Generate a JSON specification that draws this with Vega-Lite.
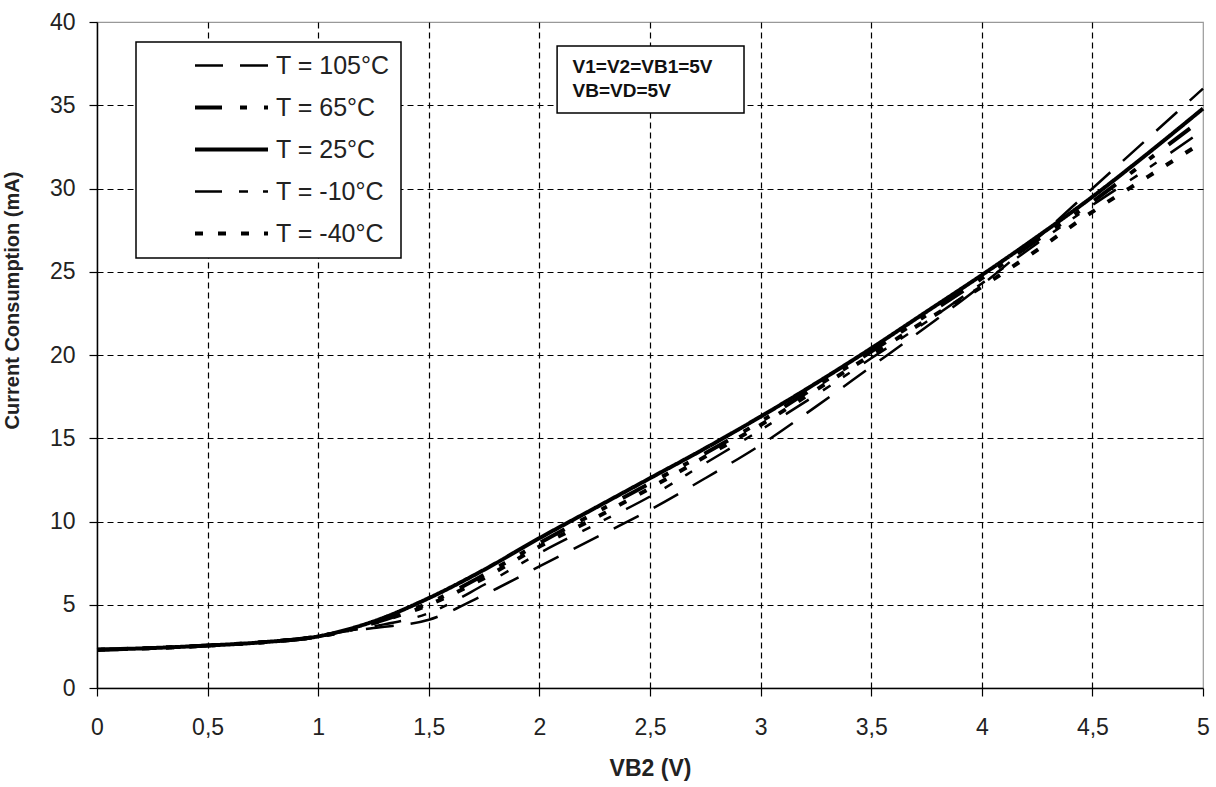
{
  "$schema": "https://vega.github.io/schema/vega-lite/v6.json",
  "autosize": {"type": "none"},
  "width": 1106,
  "height": 666,
  "padding": {"left": 97, "top": 22, "right": 13, "bottom": 99},
  "background": "white",
  "config": {
    "font": "Liberation Sans",
    "view": {"stroke": "#999999", "strokeWidth": 1.2},
    "axis": {
      "labelFont": "Liberation Sans",
      "labelFontSize": 23,
      "labelColor": "#222222",
      "titleFont": "Liberation Sans",
      "titleColor": "#222222",
      "domainColor": "#000000",
      "domainWidth": 1.5,
      "tickColor": "#000000",
      "tickWidth": 1.2,
      "tickSize": 8,
      "gridColor": "#000000",
      "gridDash": [6, 4],
      "gridWidth": 1.2
    },
    "legend": {
      "orient": "none",
      "legendX": 39,
      "legendY": 20,
      "title": null,
      "padding": 11,
      "symbolOffset": 72,
      "symbolSize": 400,
      "symbolType": "M-3.65,0H3.65",
      "symbolStrokeColor": "#000000",
      "labelFont": "Liberation Sans",
      "labelFontSize": 25,
      "labelColor": "#222222",
      "labelOffset": 32,
      "labelLimit": 300,
      "rowPadding": 16,
      "strokeColor": "#000000",
      "fillColor": "#ffffff",
      "strokeWidth": 1.5
    }
  },
  "layer": [
    {
      "data": {"values": [
        {"T": "T = 105°C", "v": 0, "i": 2.3}, {"T": "T = 105°C", "v": 0.25, "i": 2.4}, {"T": "T = 105°C", "v": 0.5, "i": 2.55}, {"T": "T = 105°C", "v": 0.75, "i": 2.75}, {"T": "T = 105°C", "v": 1, "i": 3.1}, {"T": "T = 105°C", "v": 1.1, "i": 3.35},
        {"T": "T = 105°C", "v": 1.25, "i": 3.6}, {"T": "T = 105°C", "v": 1.5, "i": 4.1}, {"T": "T = 105°C", "v": 1.75, "i": 5.6}, {"T": "T = 105°C", "v": 2, "i": 7.3}, {"T": "T = 105°C", "v": 2.25, "i": 9.0}, {"T": "T = 105°C", "v": 2.5, "i": 10.7},
        {"T": "T = 105°C", "v": 2.75, "i": 12.6}, {"T": "T = 105°C", "v": 3, "i": 14.6}, {"T": "T = 105°C", "v": 3.25, "i": 16.9}, {"T": "T = 105°C", "v": 3.5, "i": 19.3}, {"T": "T = 105°C", "v": 3.75, "i": 21.7}, {"T": "T = 105°C", "v": 4, "i": 24.2},
        {"T": "T = 105°C", "v": 4.25, "i": 27.0}, {"T": "T = 105°C", "v": 4.5, "i": 30.0}, {"T": "T = 105°C", "v": 4.75, "i": 33.0}, {"T": "T = 105°C", "v": 5, "i": 36.0},

        {"T": "T = 65°C", "v": 0, "i": 2.3}, {"T": "T = 65°C", "v": 0.25, "i": 2.4}, {"T": "T = 65°C", "v": 0.5, "i": 2.55}, {"T": "T = 65°C", "v": 0.75, "i": 2.75}, {"T": "T = 65°C", "v": 1, "i": 3.1}, {"T": "T = 65°C", "v": 1.1, "i": 3.35},
        {"T": "T = 65°C", "v": 1.25, "i": 3.9}, {"T": "T = 65°C", "v": 1.5, "i": 5.1}, {"T": "T = 65°C", "v": 1.75, "i": 6.8}, {"T": "T = 65°C", "v": 2, "i": 8.7}, {"T": "T = 65°C", "v": 2.25, "i": 10.5}, {"T": "T = 65°C", "v": 2.5, "i": 12.3},
        {"T": "T = 65°C", "v": 2.75, "i": 14.1}, {"T": "T = 65°C", "v": 3, "i": 16.0}, {"T": "T = 65°C", "v": 3.25, "i": 18.1}, {"T": "T = 65°C", "v": 3.5, "i": 20.2}, {"T": "T = 65°C", "v": 3.75, "i": 22.4}, {"T": "T = 65°C", "v": 4, "i": 24.6},
        {"T": "T = 65°C", "v": 4.25, "i": 26.9}, {"T": "T = 65°C", "v": 4.5, "i": 29.2}, {"T": "T = 65°C", "v": 4.75, "i": 31.7}, {"T": "T = 65°C", "v": 5, "i": 34.2},

        {"T": "T = 25°C", "v": 0, "i": 2.3}, {"T": "T = 25°C", "v": 0.25, "i": 2.4}, {"T": "T = 25°C", "v": 0.5, "i": 2.55}, {"T": "T = 25°C", "v": 0.75, "i": 2.75}, {"T": "T = 25°C", "v": 1, "i": 3.1}, {"T": "T = 25°C", "v": 1.1, "i": 3.4},
        {"T": "T = 25°C", "v": 1.25, "i": 4.0}, {"T": "T = 25°C", "v": 1.5, "i": 5.4}, {"T": "T = 25°C", "v": 1.75, "i": 7.1}, {"T": "T = 25°C", "v": 2, "i": 9.0}, {"T": "T = 25°C", "v": 2.25, "i": 10.8}, {"T": "T = 25°C", "v": 2.5, "i": 12.6},
        {"T": "T = 25°C", "v": 2.75, "i": 14.4}, {"T": "T = 25°C", "v": 3, "i": 16.3}, {"T": "T = 25°C", "v": 3.25, "i": 18.3}, {"T": "T = 25°C", "v": 3.5, "i": 20.4}, {"T": "T = 25°C", "v": 3.75, "i": 22.6}, {"T": "T = 25°C", "v": 4, "i": 24.8},
        {"T": "T = 25°C", "v": 4.25, "i": 27.1}, {"T": "T = 25°C", "v": 4.5, "i": 29.5}, {"T": "T = 25°C", "v": 4.75, "i": 32.1}, {"T": "T = 25°C", "v": 5, "i": 34.8},

        {"T": "T = -10°C", "v": 0, "i": 2.3}, {"T": "T = -10°C", "v": 0.25, "i": 2.4}, {"T": "T = -10°C", "v": 0.5, "i": 2.55}, {"T": "T = -10°C", "v": 0.75, "i": 2.75}, {"T": "T = -10°C", "v": 1, "i": 3.1}, {"T": "T = -10°C", "v": 1.1, "i": 3.35},
        {"T": "T = -10°C", "v": 1.25, "i": 3.7}, {"T": "T = -10°C", "v": 1.5, "i": 4.5}, {"T": "T = -10°C", "v": 1.75, "i": 6.2}, {"T": "T = -10°C", "v": 2, "i": 8.1}, {"T": "T = -10°C", "v": 2.25, "i": 9.8}, {"T": "T = -10°C", "v": 2.5, "i": 11.5},
        {"T": "T = -10°C", "v": 2.75, "i": 13.5}, {"T": "T = -10°C", "v": 3, "i": 15.5}, {"T": "T = -10°C", "v": 3.25, "i": 17.6}, {"T": "T = -10°C", "v": 3.5, "i": 19.8}, {"T": "T = -10°C", "v": 3.75, "i": 22.0}, {"T": "T = -10°C", "v": 4, "i": 24.3},
        {"T": "T = -10°C", "v": 4.25, "i": 26.7}, {"T": "T = -10°C", "v": 4.5, "i": 29.0}, {"T": "T = -10°C", "v": 4.75, "i": 31.2}, {"T": "T = -10°C", "v": 5, "i": 33.5},

        {"T": "T = -40°C", "v": 0, "i": 2.3}, {"T": "T = -40°C", "v": 0.25, "i": 2.4}, {"T": "T = -40°C", "v": 0.5, "i": 2.55}, {"T": "T = -40°C", "v": 0.75, "i": 2.75}, {"T": "T = -40°C", "v": 1, "i": 3.1}, {"T": "T = -40°C", "v": 1.1, "i": 3.35},
        {"T": "T = -40°C", "v": 1.25, "i": 3.9}, {"T": "T = -40°C", "v": 1.5, "i": 5.0}, {"T": "T = -40°C", "v": 1.75, "i": 6.6}, {"T": "T = -40°C", "v": 2, "i": 8.5}, {"T": "T = -40°C", "v": 2.25, "i": 10.2}, {"T": "T = -40°C", "v": 2.5, "i": 12.0},
        {"T": "T = -40°C", "v": 2.75, "i": 13.9}, {"T": "T = -40°C", "v": 3, "i": 15.8}, {"T": "T = -40°C", "v": 3.25, "i": 17.9}, {"T": "T = -40°C", "v": 3.5, "i": 20.0}, {"T": "T = -40°C", "v": 3.75, "i": 22.1}, {"T": "T = -40°C", "v": 4, "i": 24.1},
        {"T": "T = -40°C", "v": 4.25, "i": 26.3}, {"T": "T = -40°C", "v": 4.5, "i": 28.6}, {"T": "T = -40°C", "v": 4.75, "i": 30.7}, {"T": "T = -40°C", "v": 5, "i": 32.8}
      ]},
      "mark": {"type": "line", "color": "#000000", "interpolate": "monotone"},
      "encoding": {
        "x": {
          "field": "v", "type": "quantitative",
          "scale": {"domain": [0, 5], "nice": false, "zero": false},
          "axis": {
            "title": "VB2 (V)",
            "titleFontSize": 23,
            "titleFontWeight": "bold",
            "titlePadding": 18,
            "values": [0, 0.5, 1, 1.5, 2, 2.5, 3, 3.5, 4, 4.5, 5],
            "labelExpr": "replace(format(datum.value, '~g'), '.', ',')",
            "labelPadding": 20,
            "labelFlush": false,
            "gridOpacity": {"condition": {"test": "datum.value == 5 || datum.value == 0", "value": 0}, "value": 1}
          }
        },
        "y": {
          "field": "i", "type": "quantitative",
          "scale": {"domain": [0, 40], "nice": false},
          "axis": {
            "title": "Current Consumption (mA)",
            "titleFontSize": 20,
            "titleFontWeight": "bold",
            "titleX": -75,
            "titleY": 278,
            "values": [0, 5, 10, 15, 20, 25, 30, 35, 40],
            "labelPadding": 14,
            "labelFlush": false,
            "gridOpacity": {"condition": {"test": "datum.value == 40 || datum.value == 0", "value": 0}, "value": 1}
          }
        },
        "strokeDash": {
          "field": "T", "type": "nominal",
          "scale": {
            "domain": ["T = 105°C", "T = 65°C", "T = 25°C", "T = -10°C", "T = -40°C"],
            "range": [[28, 17], [27, 18, 7, 17, 6, 18], [1, 0], [27, 17, 9, 15, 8, 17], [8, 15]]
          },
          "legend": {"title": null}
        },
        "strokeWidth": {
          "field": "T", "type": "nominal",
          "scale": {
            "type": "ordinal",
            "domain": ["T = 105°C", "T = 65°C", "T = 25°C", "T = -10°C", "T = -40°C"],
            "range": [2.5, 4, 4, 2.5, 4]
          },
          "legend": {"title": null}
        }
      }
    },
    {
      "data": {"values": [{}]},
      "mark": {"type": "rect", "fill": "white", "stroke": "#000000", "strokeWidth": 1.5},
      "encoding": {
        "x": {"datum": 2.08, "type": "quantitative"},
        "x2": {"datum": 2.925},
        "y": {"datum": 38.56, "type": "quantitative"},
        "y2": {"datum": 34.53}
      }
    },
    {
      "data": {"values": [{}]},
      "mark": {"type": "text", "align": "left", "baseline": "top", "fontSize": 19, "fontWeight": "bold", "font": "Liberation Sans", "color": "#111111", "lineHeight": 24, "text": ["V1=V2=VB1=5V", "VB=VD=5V"]},
      "encoding": {
        "x": {"datum": 2.15, "type": "quantitative"},
        "y": {"datum": 37.85, "type": "quantitative"}
      }
    }
  ]
}
